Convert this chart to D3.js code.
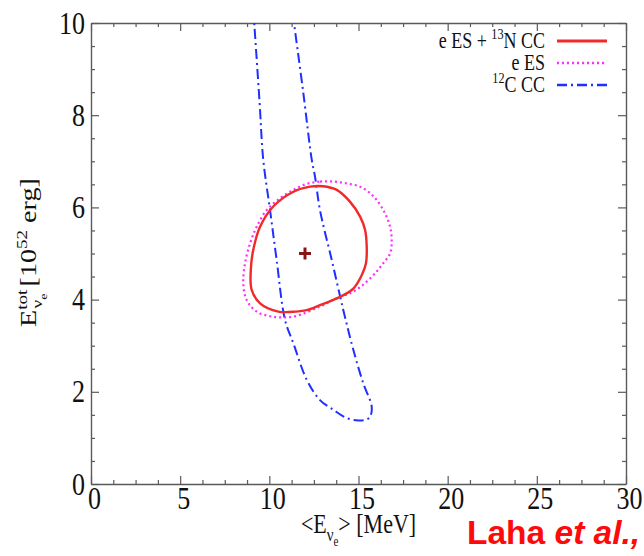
<!DOCTYPE html>
<html>
<head>
<meta charset="utf-8">
<script src="https://cdn.jsdelivr.net/npm/d3@7"></script>
<style>
  body { margin: 0; background: #fff; }
  svg { display: block; }
</style>
</head>
<body>
<svg id="chart" width="644" height="556"></svg>
<script>
// Axis ticks
const xTicks = [0, 5, 10, 15, 20, 25, 30];
const yTicks = [0, 2, 4, 6, 8, 10];

// Best-fit point: <E> [MeV], E_tot [10^52 erg]
const bestFit = [12.0, 5.0];

// eES + 13N CC contour (closed)
const comboContour = [
  [12.28, 6.45], [13.0, 6.46], [13.78, 6.38], [14.53, 6.12], [15.09, 5.80],
  [15.37, 5.51], [15.46, 5.15], [15.42, 4.79], [15.18, 4.53], [14.71, 4.24],
  [13.96, 4.06], [12.84, 3.88], [12.1, 3.77], [11.5, 3.74], [10.5, 3.74],
  [9.48, 3.92], [9.01, 4.21], [8.96, 4.64], [9.10, 5.08], [9.48, 5.58],
  [10.22, 6.02], [11.35, 6.34]
];

// eES-only contour (closed)
const esContour = [
  [12.1, 6.51], [12.84, 6.56], [13.59, 6.56], [14.34, 6.52], [15.09, 6.45],
  [15.65, 6.31], [16.02, 6.16], [16.49, 5.87], [16.77, 5.58], [16.86, 5.29],
  [16.77, 5.0], [16.39, 4.79], [16.02, 4.61], [15.46, 4.39], [14.71, 4.17],
  [13.78, 4.03], [12.84, 3.85], [11.35, 3.63], [10.22, 3.63], [9.29, 3.74],
  [8.73, 3.99], [8.54, 4.35], [8.64, 4.79], [8.92, 5.22], [9.29, 5.58],
  [9.85, 5.94], [10.6, 6.2], [11.35, 6.38]
];

// 12C CC contour (open, runs past the top of the frame)
const carbonContour = [
  [9.10, 10.3], [9.16, 9.96], [9.45, 8.3], [9.66, 7.03], [10.04, 5.94],
  [10.41, 4.86], [10.88, 3.56], [11.35, 3.05], [12.10, 2.26], [12.84, 1.82],
  [13.59, 1.61], [14.34, 1.43], [15.0, 1.38], [15.45, 1.40], [15.65, 1.46],
  [15.74, 1.68], [15.27, 2.18], [14.71, 2.91], [14.15, 3.77], [13.50, 4.86],
  [12.84, 5.94], [12.56, 6.67], [12.38, 7.03], [11.9, 8.5], [11.39, 9.98],
  [11.28, 10.3]
];

const W = 644, H = 556;
const plot = { left: 91, right: 626, top: 23, bottom: 484 };
const SY = 1.25;               // tall glyph aspect of the figure's lettering
const serif = "'Liberation Serif', 'Times New Roman', serif";
const frameColor = "#5a5a5a";

const svg = d3.select("#chart");

const x = d3.scaleLinear().domain([0, 30]).range([plot.left, plot.right]);
const y = d3.scaleLinear().domain([0, 10]).range([plot.bottom, plot.top]);

// ---- clip region for curves
svg.append("defs").append("clipPath").attr("id", "plotClip")
  .append("rect")
  .attr("x", plot.left).attr("y", plot.top)
  .attr("width", plot.right - plot.left).attr("height", plot.bottom - plot.top);

// ---- axes (ticks point inward, mirrored on top and right)
const xMinor = d3.range(0, 30.001, 1.25).filter(v => !xTicks.includes(v));
const yMinor = d3.range(0, 10.001, 0.5).filter(v => !yTicks.includes(v));

function styleAxis(g) {
  g.selectAll("path.domain").attr("stroke", frameColor).attr("stroke-width", 1.4);
  g.selectAll(".tick line").attr("stroke", frameColor).attr("stroke-width", 1.2);
}

// bottom
const gxB = svg.append("g").attr("transform", `translate(0,${plot.bottom})`)
  .call(d3.axisBottom(x).tickValues(xTicks).tickSizeInner(-8).tickSizeOuter(0)
    .tickFormat(d3.format("d")));
styleAxis(gxB);
gxB.selectAll(".tick text")
  .attr("y", null).attr("dy", null)
  .attr("transform", `translate(3,25) scale(1,${SY})`)
  .attr("fill", "#111")
  .style("font-family", serif).style("font-size", "26px");
svg.append("g").attr("transform", `translate(0,${plot.bottom})`)
  .call(d3.axisBottom(x).tickValues(xMinor).tickSizeInner(-4).tickSizeOuter(0).tickFormat(""))
  .call(g => { g.select(".domain").remove(); styleAxis(g); });

// top
const gxT = svg.append("g").attr("transform", `translate(0,${plot.top})`)
  .call(d3.axisTop(x).tickValues(xTicks).tickSizeInner(-8).tickSizeOuter(0).tickFormat(""));
styleAxis(gxT);
svg.append("g").attr("transform", `translate(0,${plot.top})`)
  .call(d3.axisTop(x).tickValues(xMinor).tickSizeInner(-4).tickSizeOuter(0).tickFormat(""))
  .call(g => { g.select(".domain").remove(); styleAxis(g); });

// left
const gyL = svg.append("g").attr("transform", `translate(${plot.left},0)`)
  .call(d3.axisLeft(y).tickValues(yTicks).tickSizeInner(-8).tickSizeOuter(0)
    .tickFormat(d3.format("d")));
styleAxis(gyL);
gyL.selectAll(".tick text")
  .attr("x", null).attr("dy", null)
  .attr("text-anchor", "end")
  .attr("transform", `translate(-6,10) scale(1,${SY})`)
  .attr("fill", "#111")
  .style("font-family", serif).style("font-size", "26px");
svg.append("g").attr("transform", `translate(${plot.left},0)`)
  .call(d3.axisLeft(y).tickValues(yMinor).tickSizeInner(-4).tickSizeOuter(0).tickFormat(""))
  .call(g => { g.select(".domain").remove(); styleAxis(g); });

// right
const gyR = svg.append("g").attr("transform", `translate(${plot.right},0)`)
  .call(d3.axisRight(y).tickValues(yTicks).tickSizeInner(-8).tickSizeOuter(0).tickFormat(""));
styleAxis(gyR);
svg.append("g").attr("transform", `translate(${plot.right},0)`)
  .call(d3.axisRight(y).tickValues(yMinor).tickSizeInner(-4).tickSizeOuter(0).tickFormat(""))
  .call(g => { g.select(".domain").remove(); styleAxis(g); });

// ---- series
const series = [
  { label: [["e ES + "], ["13", "sup"], ["N CC"]], data: comboContour, closed: true,
    color: "#f02a2a", width: 2.4, dash: null },
  { label: [["e ES"]], data: esContour, closed: true,
    color: "#ff2cff", width: 2.2, dash: "2,3" },
  { label: [["12", "sup"], ["C CC"]], data: carbonContour, closed: false,
    color: "#1f2fff", width: 2.0, dash: "10,4,2,4" }
];

const curves = svg.append("g").attr("clip-path", "url(#plotClip)");
series.slice().reverse().forEach(s => {
  const line = d3.line()
    .x(d => x(d[0])).y(d => y(d[1]))
    .curve(s.closed ? d3.curveCatmullRomClosed.alpha(0.5) : d3.curveCatmullRom.alpha(0.5));
  curves.append("path")
    .attr("d", line(s.data))
    .attr("fill", "none")
    .attr("stroke", s.color)
    .attr("stroke-width", s.width)
    .attr("stroke-dasharray", s.dash)
    .attr("stroke-linejoin", "round");
});

// best-fit marker
const bx = x(bestFit[0]), by = y(bestFit[1]);
const cross = svg.append("g").attr("stroke", "#8a1414").attr("stroke-width", 3);
cross.append("line").attr("x1", bx - 6).attr("x2", bx + 6).attr("y1", by).attr("y2", by);
cross.append("line").attr("x1", bx).attr("x2", bx).attr("y1", by - 6).attr("y2", by + 6);

// ---- rich text helper: segments of [text, kind, dx]
function richText(parent, segs, base) {
  const t = parent.append("text").style("font-family", serif).style("font-size", base + "px");
  let shift = 0;
  segs.forEach(([txt, kind, extra]) => {
    const sp = t.append("tspan").text(txt);
    let target = 0, size = base;
    if (kind === "sup") { target = -0.42 * base; size = 0.68 * base; }
    if (kind === "sub") { target = 0.28 * base; size = 0.68 * base; }
    if (kind === "subsub") { target = 0.48 * base; size = 0.5 * base; }
    sp.attr("dy", target - shift).style("font-size", size + "px");
    if (extra) sp.attr("dx", extra);
    shift = target;
  });
  return t;
}

// ---- legend
const legendRows = [41, 63, 85];
series.forEach((s, i) => {
  const ly = legendRows[i];
  richText(svg, s.label, 18)
    .attr("text-anchor", "end")
    .attr("fill", "#111")
    .attr("transform", `translate(545,${ly + 7}) scale(1,${SY})`);
  svg.append("line")
    .attr("x1", 557).attr("x2", 607).attr("y1", ly).attr("y2", ly)
    .attr("stroke", s.color).attr("stroke-width", s.width + 0.4)
    .attr("stroke-dasharray", s.dash);
});

// ---- axis titles
richText(svg, [["<E"], ["ν", "sub"], ["e", "subsub"], ["> [MeV]"]], 22)
  .attr("text-anchor", "middle").attr("fill", "#111")
  .attr("transform", `translate(${(plot.left + plot.right) / 2},533) scale(1,${SY})`);

richText(svg, [["E"], ["tot", "sup"], ["ν", "sub", -15], ["e", "subsub"], [" [10"], ["52", "sup"], [" erg]"]], 22.5)
  .attr("text-anchor", "start").attr("fill", "#111")
  .attr("transform", `translate(36,327) rotate(-90) scale(${SY},1)`);

// ---- credit
const credit = svg.append("text")
  .attr("x", 467).attr("y", 544)
  .attr("fill", "#ff0a0a")
  .style("font-family", "'Liberation Sans', Arial, sans-serif")
  .style("font-weight", "bold").style("font-size", "33.5px");
credit.append("tspan").text("Laha ");
credit.append("tspan").style("font-style", "italic").text("et al.,");
</script>
</body>
</html>
